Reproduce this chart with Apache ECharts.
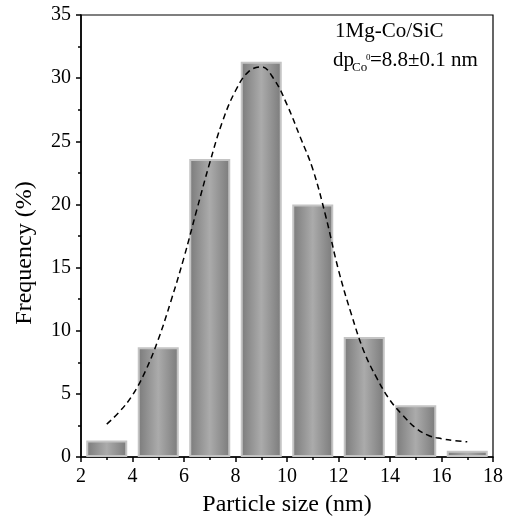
<!DOCTYPE html>
<html>
<head>
<meta charset="utf-8">
<script src="https://cdn.jsdelivr.net/npm/echarts@6/dist/echarts.min.js"></script>
<style>html,body{margin:0;padding:0;background:#fff;}#c{width:510px;height:526px;}</style>
</head>
<body>
<div id="c"></div>
<script>
const binCenters = [3, 5, 7, 9, 11, 13, 15, 17];
const frequency = [1.3, 8.7, 23.6, 31.3, 20.0, 9.5, 4.1, 0.5];
const fitX = [3, 3.5, 4, 4.5, 5, 5.5, 6, 6.5, 7, 7.5, 8, 8.5, 9, 9.5, 10, 10.5, 11, 11.5, 12, 12.5, 13, 13.5, 14, 14.5, 15, 15.5, 16, 16.5, 17];
const fitY = [2.6, 3.6, 4.9, 6.8, 9.3, 12.4, 15.8, 19.6, 23.3, 26.6, 29.0, 30.5, 30.9, 29.9, 27.9, 25.4, 22.8, 19.1, 14.8, 11.3, 8.3, 6.2, 4.5, 3.3, 2.3, 1.7, 1.45, 1.3, 1.2];
const xTitle = 'Particle size (nm)';
const yTitle = 'Frequency (%)';
const sampleLabel = '1Mg-Co/SiC';

const FONT = '"Liberation Serif", "Times New Roman", serif';
const chart = echarts.init(document.getElementById('c'));
const barGrad = new echarts.graphic.LinearGradient(0, 0, 1, 0, [
  {offset: 0, color: '#7a7a7a'},
  {offset: 0.5, color: '#ababab'},
  {offset: 1, color: '#7a7a7a'}
]);
chart.setOption({
  animation: false,
  backgroundColor: '#fff',
  grid: {left: 81, right: 17, top: 15, bottom: 69, show: true, borderColor: '#000', borderWidth: 1.2, backgroundColor: 'transparent'},
  xAxis: {
    type: 'value', min: 2, max: 18, interval: 2,
    name: xTitle, nameLocation: 'middle', nameGap: 36,
    nameTextStyle: {fontFamily: FONT, fontSize: 24, color: '#000'},
    axisLine: {show: true, lineStyle: {color: '#000', width: 1.6}},
    axisTick: {show: true, inside: false, length: 5, lineStyle: {color: '#000', width: 1.5}},
    minorTick: {show: true, splitNumber: 2, length: 3, lineStyle: {color: '#000', width: 1.5}},
    axisLabel: {fontFamily: FONT, fontSize: 20, color: '#000', margin: 10},
    splitLine: {show: false}
  },
  yAxis: {
    type: 'value', min: 0, max: 35, interval: 5,
    axisLine: {show: true, lineStyle: {color: '#000', width: 1.6}},
    axisTick: {show: true, inside: false, length: 5, lineStyle: {color: '#000', width: 1.5}},
    minorTick: {show: true, splitNumber: 2, length: 3, lineStyle: {color: '#000', width: 1.5}},
    axisLabel: {fontFamily: FONT, fontSize: 20, color: '#000', margin: 10},
    splitLine: {show: false}
  },
  series: [
    {
      type: 'bar',
      data: binCenters.map((x, i) => [x, frequency[i]]),
      barWidth: 41,
      itemStyle: {color: barGrad, borderColor: '#c4c4c4', borderWidth: 2}
    },
    {
      type: 'line',
      data: fitX.map((x, i) => [x, fitY[i]]),
      smooth: 0.4,
      symbol: 'none',
      lineStyle: {color: '#000', width: 1.5, type: [6, 4]},
      z: 5
    }
  ],
  graphic: [
    {type: 'text', x: 25, y: 253, rotation: Math.PI / 2,
     style: {text: yTitle, font: '24px ' + FONT, fill: '#000', align: 'center', verticalAlign: 'middle'}},
    {type: 'text', x: 335, y: 31,
     style: {text: sampleLabel, font: '21px ' + FONT, fill: '#000', align: 'left', verticalAlign: 'middle'}},
    {type: 'text', x: 333, y: 60,
     style: {text: 'dp', font: '21px ' + FONT, fill: '#000', align: 'left', verticalAlign: 'middle'}},
    {type: 'text', x: 352, y: 68,
     style: {text: 'Co', font: '13px ' + FONT, fill: '#000', align: 'left', verticalAlign: 'middle'}},
    {type: 'text', x: 366, y: 58,
     style: {text: '0', font: '9px ' + FONT, fill: '#000', align: 'left', verticalAlign: 'middle'}},
    {type: 'text', x: 370, y: 60,
     style: {text: '=8.8±0.1 nm', font: '21px ' + FONT, fill: '#000', align: 'left', verticalAlign: 'middle'}}
  ]
});
</script>
</body>
</html>
